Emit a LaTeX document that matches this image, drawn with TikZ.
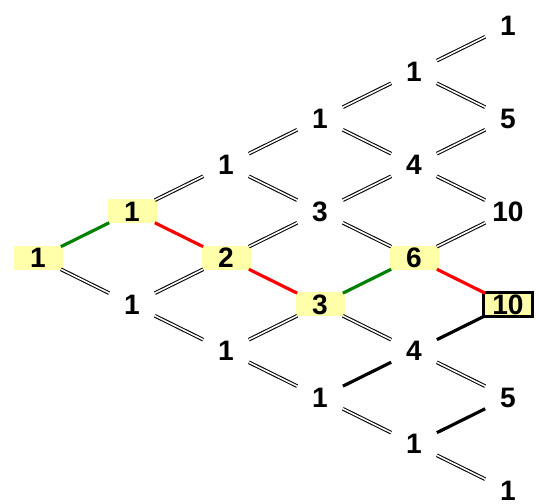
\documentclass[tikz,border=0pt]{standalone}
\usepackage{fontspec}
\setmainfont{Liberation Sans}
\definecolor{hlyellow}{RGB}{255,255,170}
\definecolor{pathgreen}{RGB}{0,128,0}
\tikzset{
  num/.style={inner sep=0pt,minimum width=0.98cm,minimum height=0.48cm,font=\fontsize{16}{16}\selectfont\bfseries},
  numhit/.style={num,fill=hlyellow},
  numend/.style={num,fill=hlyellow,draw,line width=1.6pt},
  dbl/.style={draw=black,double=white,line width=0.6pt,double distance=0.9pt,shorten <=0.51cm,shorten >=0.51cm},
  single/.style={line width=1.8pt,shorten <=0.51cm,shorten >=0.51cm},
  upedge/.style={single,pathgreen},
  downedge/.style={single,red},
  plainedge/.style={single,black}
}
\begin{document}
\begin{tikzpicture}[x=1.88cm,y=0.93cm]
  \useasboundingbox (-0.4043,-5.290) rectangle (5.3298,5.548);

  \node[numhit] (p00) at (0,0) {1};

  \node[numhit] (p10) at (1,1) {1};
  \node[num] (p11) at (1,-1) {1};

  \node[num] (p20) at (2,2) {1};
  \node[numhit] (p21) at (2,0) {2};
  \node[num] (p22) at (2,-2) {1};

  \node[num] (p30) at (3,3) {1};
  \node[num] (p31) at (3,1) {3};
  \node[numhit] (p32) at (3,-1) {3};
  \node[num] (p33) at (3,-3) {1};

  \node[num] (p40) at (4,4) {1};
  \node[num] (p41) at (4,2) {4};
  \node[numhit] (p42) at (4,0) {6};
  \node[num] (p43) at (4,-2) {4};
  \node[num] (p44) at (4,-4) {1};

  \node[num] (p50) at (5,5) {1};
  \node[num] (p51) at (5,3) {5};
  \node[num] (p52) at (5,1) {10};
  \node[numend] (p53) at (5,-1) {10};
  \node[num] (p54) at (5,-3) {5};
  \node[num] (p55) at (5,-5) {1};

  \draw[upedge] (p00.center)--(p10.center);
  \draw[downedge] (p10.center)--(p21.center);
  \draw[downedge] (p21.center)--(p32.center);
  \draw[upedge] (p32.center)--(p42.center);
  \draw[downedge] (p42.center)--(p53.center);
  \draw[plainedge] (p43.center)--(p53.center);
  \draw[plainedge] (p33.center)--(p43.center);
  \draw[plainedge] (p44.center)--(p54.center);

  \draw[dbl] (p00.center)--(p11.center);
  \draw[dbl] (p10.center)--(p20.center);
  \draw[dbl] (p11.center)--(p21.center);
  \draw[dbl] (p11.center)--(p22.center);
  \draw[dbl] (p20.center)--(p30.center);
  \draw[dbl] (p20.center)--(p31.center);
  \draw[dbl] (p21.center)--(p31.center);
  \draw[dbl] (p22.center)--(p32.center);
  \draw[dbl] (p22.center)--(p33.center);
  \draw[dbl] (p30.center)--(p40.center);
  \draw[dbl] (p30.center)--(p41.center);
  \draw[dbl] (p31.center)--(p41.center);
  \draw[dbl] (p31.center)--(p42.center);
  \draw[dbl] (p32.center)--(p43.center);
  \draw[dbl] (p33.center)--(p44.center);
  \draw[dbl] (p40.center)--(p50.center);
  \draw[dbl] (p40.center)--(p51.center);
  \draw[dbl] (p41.center)--(p51.center);
  \draw[dbl] (p41.center)--(p52.center);
  \draw[dbl] (p42.center)--(p52.center);
  \draw[dbl] (p43.center)--(p54.center);
  \draw[dbl] (p44.center)--(p55.center);
\end{tikzpicture}
\end{document}
